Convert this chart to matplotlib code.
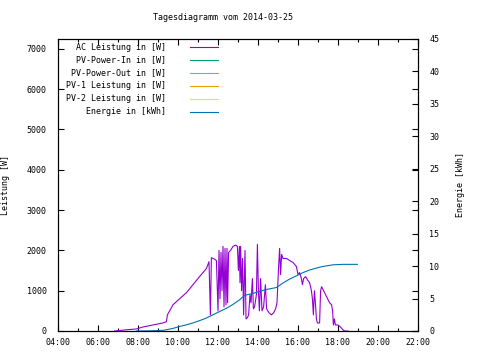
import numpy as np
import matplotlib
matplotlib.use("Agg")
import matplotlib.pyplot as plt
from matplotlib.ticker import FuncFormatter, MultipleLocator

plt.rcParams['font.family'] = ['DejaVu Sans Mono']
plt.rcParams['font.size'] = 6

# AC Leistung [W], time in decimal hours
ac_time = [6.83, 7.42, 7.92, 8.25, 8.75, 9.25, 9.42, 9.47, 9.75, 10.08, 10.42, 10.75, 11.08, 11.42,
           11.55, 11.62, 11.67, 11.83, 11.92, 12.0, 12.05, 12.1, 12.15, 12.2, 12.25, 12.3, 12.35,
           12.4, 12.45, 12.48, 12.53, 12.63, 12.75, 12.88, 12.97, 13.02, 13.07, 13.1, 13.13, 13.18,
           13.23, 13.28, 13.35, 13.4, 13.47, 13.53, 13.6, 13.65, 13.72, 13.77, 13.83, 13.92, 13.97,
           14.02, 14.07, 14.13, 14.2, 14.28, 14.37, 14.43, 14.55, 14.67, 14.78, 14.88, 14.95, 15.02,
           15.08, 15.13, 15.18, 15.25, 15.42, 15.58, 15.75, 15.92, 16.0, 16.08, 16.17, 16.22, 16.28,
           16.38, 16.5, 16.58, 16.67, 16.72, 16.77, 16.82, 16.87, 16.92, 16.97, 17.08, 17.13, 17.18,
           17.28, 17.38, 17.48, 17.58, 17.68, 17.73, 17.77, 17.82, 17.87, 18.0, 18.12, 18.25, 18.33, 18.5]
ac_power = [0, 30, 50, 100, 150, 200, 230, 400, 650, 800, 950, 1150, 1350, 1550,
            1720, 400, 1820, 1780, 1750, 500, 2000, 800, 1950, 1000, 2100, 600, 2050,
            650, 2050, 700, 1950, 2000, 2100, 2130, 2100, 1500, 2100, 1200, 2100, 1000,
            1800, 400, 2000, 300, 330, 400, 900, 700, 1300, 550, 600, 900, 2150,
            1000, 500, 1300, 500, 600, 1150, 550, 450, 400, 450, 550, 700, 1500,
            2050, 1400, 1900, 1800, 1800, 1750, 1700, 1600, 1400, 1450, 1300, 1150, 1300,
            1350, 1250, 1200, 1000, 800, 400, 1000, 700, 300, 200, 200, 1000, 1100,
            1000, 900, 800, 700, 650, 500, 150, 300, 150, 150, 100, 30, 0, 0]

# Energie [kWh]
en_time = [7.92, 8.5, 9.25, 9.42, 9.75, 10.08, 10.42, 10.75, 11.08, 11.42, 11.75, 12.08, 12.42,
           12.75, 13.08, 13.33, 13.75, 14.08, 14.42, 14.92, 15.25, 15.58, 15.92, 16.25, 16.58,
           16.92, 17.25, 17.75, 18.25, 18.97]
en_kwh = [0, 0.02, 0.1, 0.2, 0.4, 0.7, 0.95, 1.25, 1.6, 2.0, 2.5, 3.0, 3.5,
          4.1, 4.8, 5.5, 5.8, 6.1, 6.4, 6.7, 7.4, 8.0, 8.5, 9.0, 9.4,
          9.7, 9.95, 10.2, 10.27, 10.27]

# empty series (only in legend)
pv_in = []
pv_out = []
pv1 = []
pv2 = []

labels = ["AC Leistung in [W]", "PV-Power-In in [W]", "PV-Power-Out in [W]",
          "PV-1 Leistung in [W]", "PV-2 Leistung in [W]", "Energie in [kWh]"]
colors = ["#9400d3", "#009e73", "#56b4e9", "#e69f00", "#f0e442", "#0072b2"]

fig = plt.figure(figsize=(4.8, 3.6), dpi=100)
ax = fig.add_axes([58/480, 1-331/360, 360/480, 292/360])
ax2 = ax.twinx()

ax.plot(ac_time, ac_power, color=colors[0], lw=0.8)
ax.plot(pv_in, pv_in, color=colors[1], lw=0.8)
ax.plot(pv_out, pv_out, color=colors[2], lw=0.8)
ax.plot(pv1, pv1, color=colors[3], lw=0.8)
ax.plot(pv2, pv2, color=colors[4], lw=0.8)
ax2.plot(en_time, en_kwh, color=colors[5], lw=0.8)

ax.set_xlim(4, 22)
ax.set_ylim(0, 7245)
ax2.set_ylim(0, 45)

ax.xaxis.set_major_locator(MultipleLocator(2))
ax.xaxis.set_minor_locator(MultipleLocator(1))
ax.xaxis.set_major_formatter(FuncFormatter(lambda v, p: "%02d:00" % int(round(v))))
ax.yaxis.set_major_locator(MultipleLocator(1000))
ax2.yaxis.set_major_locator(MultipleLocator(5))

ax.tick_params(axis='x', which='both', direction='in', top=True, length=4, width=0.8, pad=5)
ax.tick_params(axis='x', which='minor', length=2)
ax.tick_params(axis='y', direction='in', right=True, length=4, width=0.8, pad=8)
ax2.tick_params(axis='y', direction='in', length=4, width=0.8, pad=8)
for a in (ax, ax2):
    for s in a.spines.values():
        s.set_linewidth(0.8)

ax.set_ylabel("Leistung [W]", labelpad=12)
ax2.set_ylabel("Energie [kWh]", labelpad=12)
fig.text(223/480, 1-18/360, "Tagesdiagramm vom 2014-03-25", ha='center', va='center')

# legend, gnuplot style: right aligned text, sample on the right
for i, (lab, c) in enumerate(zip(labels, colors)):
    y = 1 - (47 + 13*i - 39) / 292
    ax.text((166-58)/360, y, lab, transform=ax.transAxes, ha='right', va='center')
    ax.plot([(190-58)/360, (218-58)/360], [y, y], transform=ax.transAxes, color=c, lw=0.8)

fig.savefig("out.png", dpi=100)
